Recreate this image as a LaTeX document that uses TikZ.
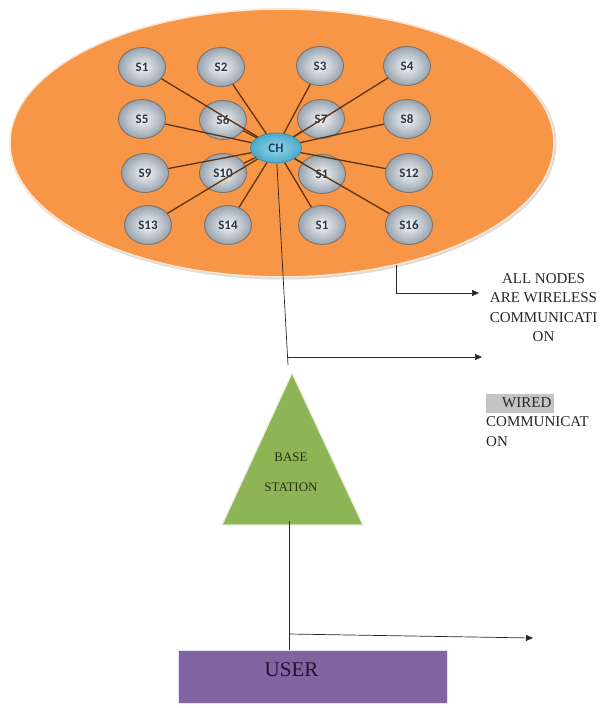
\documentclass[tikz,border=0pt]{standalone}
\usepackage{fontspec}
\setmainfont{Liberation Serif}
\newfontfamily\calib{Carlito}
\usetikzlibrary{shapes.geometric,arrows.meta}
\definecolor{fieldorange}{HTML}{F79646}
\definecolor{fieldedge}{HTML}{FBE6D4}
\definecolor{sensorin}{HTML}{F4F6F8}
\definecolor{sensorout}{HTML}{98A3AF}
\definecolor{sensoredge}{HTML}{7D716A}
\definecolor{sensortext}{HTML}{2C3846}
\definecolor{chin}{HTML}{93D6EC}
\definecolor{chout}{HTML}{4AAACA}
\definecolor{chedge}{HTML}{3A8DAE}
\definecolor{chtext}{HTML}{1D3F5C}
\definecolor{linkbrown}{HTML}{5C3412}
\definecolor{bsgreen}{HTML}{8DB556}
\definecolor{bstext}{HTML}{26310F}
\definecolor{userpurple}{HTML}{8064A2}
\definecolor{usertext}{HTML}{24132F}
\definecolor{hlgray}{HTML}{C4C4C4}
\begin{document}
\begin{tikzpicture}[x=1pt,y=-1pt,
  sensor/.style={ellipse, minimum width=47pt, minimum height=39pt, inner sep=0pt,
    draw=sensoredge, line width=0.9pt, inner color=sensorin, outer color=sensorout,
    font=\calib\bfseries\fontsize{13}{14}\selectfont, text=sensortext},
  chnode/.style={ellipse, minimum width=51pt, minimum height=30pt, inner sep=0pt,
    draw=chedge, line width=0.8pt, inner color=chin, outer color=chout,
    font=\calib\bfseries\fontsize{13}{14}\selectfont, text=chtext},
  link/.style={draw=linkbrown, line width=1.3pt},
  wire/.style={draw=black!85, line width=0.7pt},
  arrowline/.style={wire, -{Triangle[length=7pt,width=6pt]}},
  lbl/.style={inner sep=0pt, font=\fontsize{15}{19.5}\selectfont, text=black!85}
]
\useasboundingbox (0,0) rectangle (600,708);
\setlength{\fboxsep}{0pt}

% sensor field
\fill[black!14] (283,144) ellipse [x radius=273.5, y radius=135.5];
\node[ellipse, minimum width=544pt, minimum height=268pt, inner sep=0pt,
  fill=fieldorange, draw=fieldedge, line width=1.6pt] (field) at (282,143) {};

% sensors
\node[sensor] (s1)  at (142,67)  {S1};
\node[sensor] (s2)  at (221,67)  {S2};
\node[sensor] (s3)  at (320,66)  {S3};
\node[sensor] (s4)  at (407,66)  {S4};
\node[sensor] (s5)  at (142,119) {S5};
\node[sensor] (s6)  at (223,120) {S6};
\node[sensor] (s7)  at (321,119) {S7};
\node[sensor] (s8)  at (407,119) {S8};
\node[sensor] (s9)  at (145,173) {S9};
\node[sensor] (s10) at (223,173) {S10};
\node[sensor] (s11) at (322,174) {S1};
\node[sensor] (s12) at (409,173) {S12};
\node[sensor] (s13) at (148,225) {S13};
\node[sensor] (s14) at (228,225) {S14};
\node[sensor] (s15) at (322,225) {S1};
\node[sensor] (s16) at (409,225) {S16};

% cluster head
\node[chnode] (ch) at (276,148) {CH};

% links
\foreach \s in {s1,s2,s3,s4,s5,s6,s7,s8,s9,s10,s11,s12,s13,s14,s15,s16}
  \draw[link] (\s) -- (ch);

% base station
\draw[fill=bsgreen, draw=white!80!bsgreen, line width=1.2pt]
  (222,525) coordinate (bsl) -- (292,373) coordinate (bsapex) -- (363,525) coordinate (bsr) -- cycle;
\node[inner sep=0pt, align=center, anchor=north, text=bstext,
  font=\fontsize{13}{30}\selectfont] (bstxt) at (291,452.5) {BASE\\STATION};

% user
\node[rectangle, minimum width=269pt, minimum height=53pt, inner sep=0pt,
  fill=userpurple, draw=white!80!userpurple, line width=0.8pt, text=usertext,
  text depth=14pt, font=\fontsize{21}{24}\selectfont] (user) at (312.5,676.5) {USER\hspace*{42pt}};

% coordinates
\coordinate (j1) at (288,365);
\coordinate (j1a) at (287.5,357);
\coordinate (w1) at (482,357);
\coordinate (w0) at (479,293);
\coordinate (bsfoot) at (289,521);
\coordinate (j2) at (289,634);
\coordinate (w2) at (533,638);

% connectors
\draw[wire] (ch) -- (j1);
\draw[arrowline] (j1a) -- (w1);
\draw[arrowline] (field.-47.2) |- (w0);
\draw[wire] (bsfoot) -- (bsfoot |- user.north);
\draw[arrowline] (j2) -- (w2);

% labels
\node[lbl, align=center, anchor=north] (wless) at (543.5,273) {ALL NODES\\ARE WIRELESS\\COMMUNICATI\\ON};
\node[lbl, align=left, anchor=north west] (wired) at (486,393.5)
  {\colorbox{hlgray}{\strut\hspace*{16pt}WIRED\hspace*{3pt}}\\COMMUNICAT\\ON};
\end{tikzpicture}
\end{document}
